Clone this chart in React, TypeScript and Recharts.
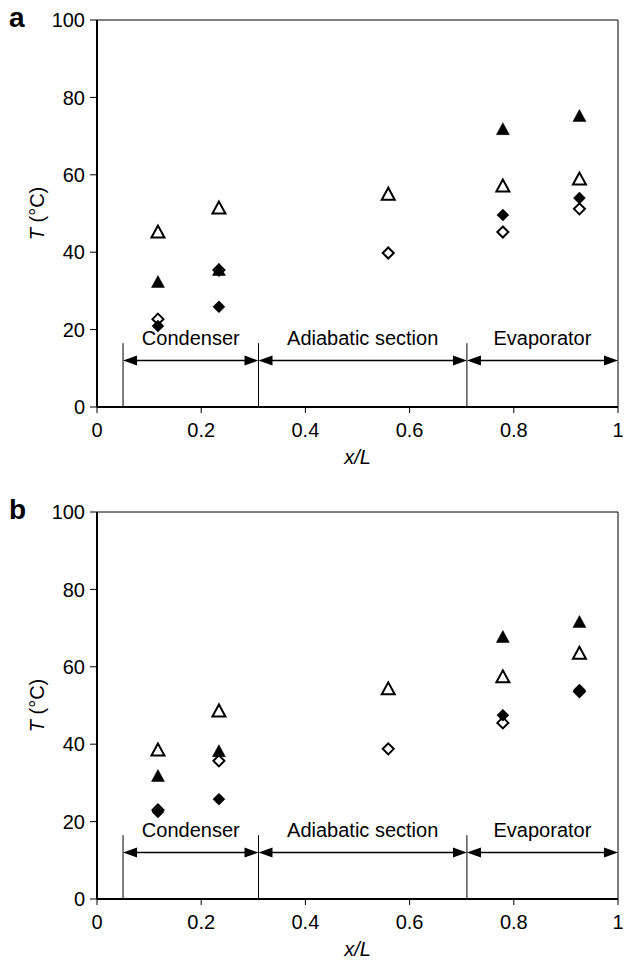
import {
  ScatterChart, Scatter, XAxis, YAxis, ReferenceLine, ReferenceArea,
} from 'recharts';

const FONT = '"Liberation Sans", Arial, sans-serif';

// x/L positions of the thermocouples
const xPos = [0.117, 0.234, 0.559, 0.779, 0.926];

// panel a, T (°C); null = no visible marker
const filledTriA = [32.3, 35.4, null, 71.8, 75.2];
const openTriA = [45.2, 51.4, 55.0, 57.1, 58.9];
const filledDiaA = [20.9, 25.9, null, 49.6, 54.0];
const openDiaA = [22.7, 35.4, 39.8, 45.2, 51.2];

// panel b
const filledTriB = [31.8, 38.2, null, 67.7, 71.6];
const openTriB = [38.5, 48.6, 54.3, 57.4, 63.5];
const filledDiaB = [22.5, 25.8, null, 47.5, 54.0];
const openDiaB = [23.0, 35.7, 38.8, 45.5, 53.6];

const xTicks = [0, 0.2, 0.4, 0.6, 0.8, 1];
const yTicks = [0, 20, 40, 60, 80, 100];

// section annotations
const sectionEdges = [0.05, 0.31, 0.71, 1];
const sectionNames = ['Condenser', 'Adiabatic section', 'Evaporator'];
const arrowY = 12;
const edgeTop = 16.5;

type Pt = { x: number; y: number };
const toPts = (ys: (number | null)[]): Pt[] =>
  ys.flatMap((y, i) => (y == null ? [] : [{ x: xPos[i], y }]));

const triangle = (filled: boolean) => (p: any) => {
  const { cx, cy } = p;
  const h = 6.5;
  return (
    <polygon
      points={`${cx},${cy - h} ${cx - h},${cy + h - 1} ${cx + h},${cy + h - 1}`}
      fill={filled ? '#000' : '#fff'}
      stroke="#000"
      strokeWidth={filled ? 0.5 : 2}
      strokeLinejoin="miter"
    />
  );
};

const diamond = (filled: boolean) => (p: any) => {
  const { cx, cy } = p;
  const h = filled ? 6 : 5.5;
  return (
    <polygon
      points={`${cx},${cy - h} ${cx + h},${cy} ${cx},${cy + h} ${cx - h},${cy}`}
      fill={filled ? '#000' : '#fff'}
      stroke="#000"
      strokeWidth={filled ? 0.5 : 2}
    />
  );
};

const DoubleArrow = (p: any) => {
  const { x1, y1, x2, y2 } = p;
  const L = 14;
  const w = 5;
  return (
    <g>
      <line x1={x1 + L - 1} y1={y1} x2={x2 - L + 1} y2={y2} stroke="#000" strokeWidth={1.5} />
      <polygon points={`${x1},${y1} ${x1 + L},${y1 - w} ${x1 + L},${y1 + w}`} fill="#000" />
      <polygon points={`${x2},${y2} ${x2 - L},${y2 - w} ${x2 - L},${y2 + w}`} fill="#000" />
    </g>
  );
};

const YLabel = (p: any) => {
  const vb = p.viewBox || { x: 0, y: 0, width: 0, height: 0 };
  const cx = 37;
  const cy = vb.y + vb.height / 2;
  return (
    <text
      x={cx}
      y={cy}
      transform={`rotate(-90 ${cx} ${cy})`}
      textAnchor="middle"
      dominantBaseline="central"
      fontSize={20}
      fontFamily={FONT}
      fill="#000"
    >
      <tspan fontStyle="italic">T</tspan> (°C)
    </text>
  );
};

interface PanelProps {
  letter: string;
  top: number;
  height: number;
  filledTri: (number | null)[];
  openTri: (number | null)[];
  filledDia: (number | null)[];
  openDia: (number | null)[];
}

function Panel({ letter, top, height, filledTri, openTri, filledDia, openDia }: PanelProps) {
  const tickStyle = { fontSize: 20, fontFamily: FONT, fill: '#000' };
  return (
    <div style={{ position: 'absolute', left: 0, top, width: 632, height }}>
      <div
        style={{
          position: 'absolute', left: 9, top: 4, fontFamily: FONT,
          fontWeight: 'bold', fontSize: 28, lineHeight: '28px',
        }}
      >
        {letter}
      </div>
      <ScatterChart width={632} height={height} margin={{ top: 20, right: 14, left: 0, bottom: 0 }}>
        <XAxis
          type="number"
          dataKey="x"
          domain={[0, 1]}
          ticks={xTicks}
          tick={tickStyle}
          tickSize={6}
          tickMargin={10}
          height={height - 407}
          stroke="#000"
          strokeWidth={2}
          tickLine={{ stroke: '#000', strokeWidth: 1 }}
          label={{
            value: 'x/L', position: 'insideTop', offset: 43,
            style: { fontSize: 20, fontStyle: 'italic', fontFamily: FONT, fill: '#000' },
          }}
        />
        <YAxis
          type="number"
          dataKey="y"
          domain={[0, 100]}
          ticks={yTicks}
          tick={tickStyle}
          tickSize={7}
          tickMargin={5}
          width={97}
          stroke="#000"
          strokeWidth={2}
          tickLine={{ stroke: '#000', strokeWidth: 1 }}
          label={<YLabel />}
        />
        <ReferenceArea x1={0} x2={1} y1={0} y2={100} fill="none" stroke="#000" strokeWidth={1} />
        {sectionEdges.slice(0, 3).map((e) => (
          <ReferenceLine
            key={`edge-${e}`}
            segment={[{ x: e, y: 0 }, { x: e, y: edgeTop }]}
            stroke="#000"
            strokeWidth={1}
          />
        ))}
        {sectionNames.map((name, i) => (
          <ReferenceLine
            key={name}
            segment={[{ x: sectionEdges[i], y: arrowY }, { x: sectionEdges[i + 1], y: arrowY }]}
            shape={DoubleArrow}
            label={{
              value: name, position: 'top', offset: 16,
              style: { fontSize: 20, fontFamily: FONT, fill: '#000' },
            }}
          />
        ))}
        <Scatter data={toPts(openDia)} shape={diamond(false)} isAnimationActive={false} />
        <Scatter data={toPts(filledDia)} shape={diamond(true)} isAnimationActive={false} />
        <Scatter data={toPts(openTri)} shape={triangle(false)} isAnimationActive={false} />
        <Scatter data={toPts(filledTri)} shape={triangle(true)} isAnimationActive={false} />
      </ScatterChart>
    </div>
  );
}

export default function App() {
  return (
    <div style={{ position: 'absolute', left: 0, top: 0, width: 632, height: 963, background: '#fff' }}>
      <Panel letter="a" top={0} height={480}
        filledTri={filledTriA} openTri={openTriA} filledDia={filledDiaA} openDia={openDiaA} />
      <Panel letter="b" top={492} height={471}
        filledTri={filledTriB} openTri={openTriB} filledDia={filledDiaB} openDia={openDiaB} />
    </div>
  );
}
